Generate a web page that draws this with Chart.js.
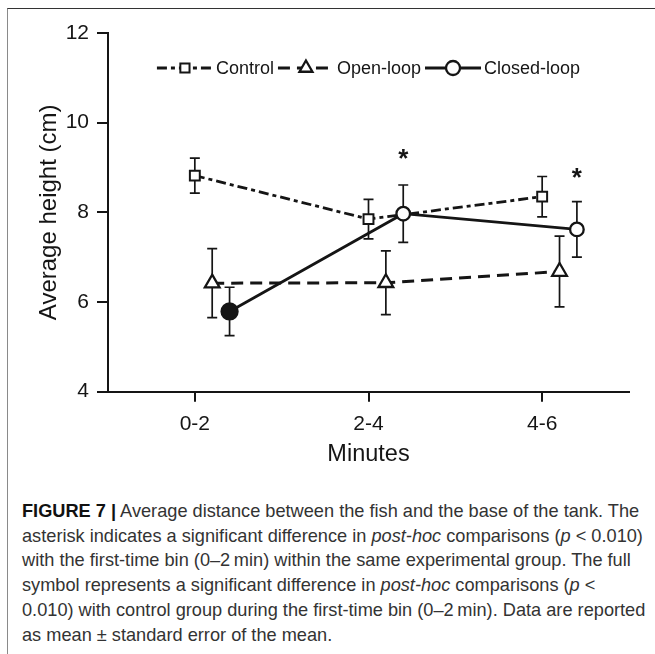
<!DOCTYPE html>
<html>
<head>
<meta charset="utf-8">
<script src="https://cdn.jsdelivr.net/npm/chart.js@4.4.1/dist/chart.umd.min.js"></script>
<style>
  html, body { margin: 0; padding: 0; background: #fff; }
  body { width: 655px; height: 654px; position: relative; overflow: hidden; font-family: "Liberation Sans", Arial, sans-serif; }
  #frame { position: absolute; left: 7px; top: 8px; right: 0; bottom: 0; border-top: 1.5px solid #333; border-left: 1.5px solid #8a8a8a; }
  #monGraphique { position: absolute; left: 0; top: 0; }
  .caption { position: absolute; left: 22px; top: 499px; font-size: 18.2px; line-height: 24.7px; color: #333; white-space: nowrap; }
  .caption b { color: #111; }
</style>
</head>
<body>
<div id="frame"></div>
<canvas id="monGraphique" width="655" height="480"></canvas>
<div class="caption">
  <b>FIGURE 7 |</b> Average distance between the fish and the base of the tank. The<br>
  asterisk indicates a significant difference in <i>post-hoc</i> comparisons (<i>p</i> &lt; 0.010)<br>
  with the first-time bin (0–2&#8201;min) within the same experimental group. The full<br>
  symbol represents a significant difference in <i>post-hoc</i> comparisons (<i>p</i> &lt;<br>
  0.010) with control group during the first-time bin (0–2&#8201;min). Data are reported<br>
  as mean ± standard error of the mean.
</div>
<script>
/*
* données
*/
const categories = ['0-2', '2-4', '4-6'];
const yTicks = [4, 6, 8, 10, 12];

const controlMean = [8.82, 7.85, 8.35];
const controlSE   = [0.39, 0.44, 0.45];
const openMean    = [6.42, 6.43, 6.68];
const openSE      = [0.77, 0.71, 0.79];
const closedMean  = [5.79, 7.97, 7.62];
const closedSE    = [0.54, 0.64, 0.62];
const closedFull  = [true, false, false];   // symbole plein = diff. avec le contrôle
const starLevel   = [null, 9.31, 8.90];     // astérisques au-dessus du closed-loop

// décalage horizontal de chaque groupe dans une même case
const DODGE = [0, 0.1, 0.2];
const INK = '#151515';
const FONT = '"Liberation Sans", Arial, sans-serif';

Chart.defaults.font.family = FONT;
Chart.defaults.color = INK;

const toPoints = (means, shift) => means.map((m, i) => ({ x: i + shift, y: m }));

//barres d'erreur (moyenne ± SE), dessinées sous les symboles
const errorBars = {
  id: 'errorBars',
  beforeDatasetsDraw(chart) {
    const { ctx, scales: { x, y } } = chart;
    ctx.save();
    ctx.strokeStyle = INK;
    ctx.lineWidth = 1.7;
    chart.data.datasets.forEach((ds) => {
      ds.data.forEach((p, i) => {
        const px = x.getPixelForValue(p.x);
        const top = y.getPixelForValue(p.y + ds.se[i]);
        const bot = y.getPixelForValue(p.y - ds.se[i]);
        ctx.beginPath();
        ctx.moveTo(px, top); ctx.lineTo(px, bot);
        ctx.moveTo(px - 5, top); ctx.lineTo(px + 5, top);
        ctx.moveTo(px - 5, bot); ctx.lineTo(px + 5, bot);
        ctx.stroke();
      });
    });
    ctx.restore();
  }
};

//astérisques
const stars = {
  id: 'stars',
  afterDatasetsDraw(chart) {
    const { ctx, scales: { x, y } } = chart;
    const size = 26;
    ctx.save();
    ctx.font = `bold ${size}px ${FONT}`;
    ctx.textAlign = 'center';
    ctx.textBaseline = 'alphabetic';
    ctx.fillStyle = INK;
    starLevel.forEach((v, i) => {
      if (v == null) return;
      ctx.fillText('*', x.getPixelForValue(i + DODGE[2]), y.getPixelForValue(v) + 0.52 * size);
    });
    ctx.restore();
  }
};

//légende dans la zone du graphique : trait + symbole + texte
const lineLegend = {
  id: 'lineLegend',
  afterDraw(chart) {
    const { ctx, chartArea } = chart;
    const sample = 56, gap = 3, space = 4;
    ctx.save();
    ctx.font = `18px ${FONT}`;
    const items = chart.data.datasets.map(ds => ({ ds, w: ctx.measureText(ds.label).width }));
    const total = items.reduce((s, it) => s + sample + gap + it.w, 0) + space * (items.length - 1);
    let x = (chartArea.left + chartArea.right) / 2 - total / 2;
    const y = chartArea.top + 35;
    items.forEach(({ ds, w }) => {
      ctx.strokeStyle = INK;
      ctx.lineWidth = ds.borderWidth;
      ctx.setLineDash(ds.borderDash || []);
      ctx.beginPath();
      ctx.moveTo(x, y);
      ctx.lineTo(x + sample, y);
      ctx.stroke();
      ctx.setLineDash([]);
      ctx.fillStyle = '#fff';
      ctx.lineWidth = ds.pointBorderWidth;
      Chart.helpers.drawPoint(ctx, { pointStyle: ds.pointStyle, radius: ds.legendRadius, borderWidth: ds.pointBorderWidth, rotation: 0 }, x + sample / 2, y);
      ctx.fillStyle = INK;
      ctx.textAlign = 'left';
      ctx.textBaseline = 'middle';
      ctx.fillText(ds.label, x + sample + gap, y + 1);
      x += sample + gap + w + space;
    });
    ctx.restore();
  }
};

const ctx = document.getElementById('monGraphique').getContext('2d');
const chart = new Chart(ctx, {
  type: 'line',
  data: {
    datasets: [{
      label: 'Control',
      data: toPoints(controlMean, DODGE[0]),
      se: controlSE,
      order: 3,
      borderColor: INK,
      borderWidth: 2.8,
      borderDash: [10, 4, 4, 4],
      pointStyle: 'rect',
      pointRadius: 7,
      legendRadius: 6.5,
      pointBorderWidth: 2,
      pointBorderColor: INK,
      pointBackgroundColor: '#fff'
    }, {
      label: 'Open-loop',
      data: toPoints(openMean, DODGE[1]),
      se: openSE,
      order: 2,
      borderColor: INK,
      borderWidth: 3,
      borderDash: [12, 7],
      pointStyle: 'triangle',
      pointRadius: 8.5,
      legendRadius: 7.5,
      pointBorderWidth: 2.3,
      pointBorderColor: INK,
      pointBackgroundColor: '#fff'
    }, {
      label: 'Closed-loop',
      data: toPoints(closedMean, DODGE[2]),
      se: closedSE,
      order: 1,
      borderColor: INK,
      borderWidth: 2.8,
      pointStyle: 'circle',
      pointRadius: closedFull.map(f => f ? 8 : 6.8),
      legendRadius: 7,
      pointBorderWidth: 2.3,
      pointBorderColor: INK,
      pointBackgroundColor: closedFull.map(f => f ? INK : '#fff')
    }]
  },
  options: {
    responsive: false,
    animation: false,
    devicePixelRatio: 1,
    layout: { padding: { top: 33, right: 26, bottom: 0, left: 0 } },
    elements: { line: { tension: 0, fill: false } },
    plugins: { legend: { display: false }, tooltip: { enabled: false } },
    scales: {
      x: {
        type: 'linear',
        min: -0.5,
        max: 2.5,
        afterBuildTicks: (s) => { s.ticks = categories.map((c, i) => ({ value: i })); },
        afterFit: (s) => { s.height = 88.3; },
        ticks: { callback: (v) => categories[v], padding: 10, font: { size: 21 }, maxRotation: 0, autoSkip: false },
        grid: { drawOnChartArea: false, tickLength: 10, lineWidth: 2, color: INK },
        border: { display: true, width: 2, color: INK },
        title: { display: true, text: 'Minutes', font: { size: 23.5 }, padding: { top: 0, bottom: 11 } }
      },
      y: {
        min: 4,
        max: 12,
        afterBuildTicks: (s) => { s.ticks = yTicks.map(v => ({ value: v })); },
        afterFit: (s) => { s.width = 108; },
        ticks: { padding: 8, font: { size: 21 } },
        grid: { drawOnChartArea: false, tickLength: 11, lineWidth: 2, color: INK },
        border: { display: true, width: 2, color: INK },
        title: { display: true, text: 'Average height (cm)', font: { size: 24 }, padding: { top: 35, bottom: 0 } }
      }
    }
  },
  plugins: [errorBars, stars, lineLegend]
});
</script>
</body>
</html>
